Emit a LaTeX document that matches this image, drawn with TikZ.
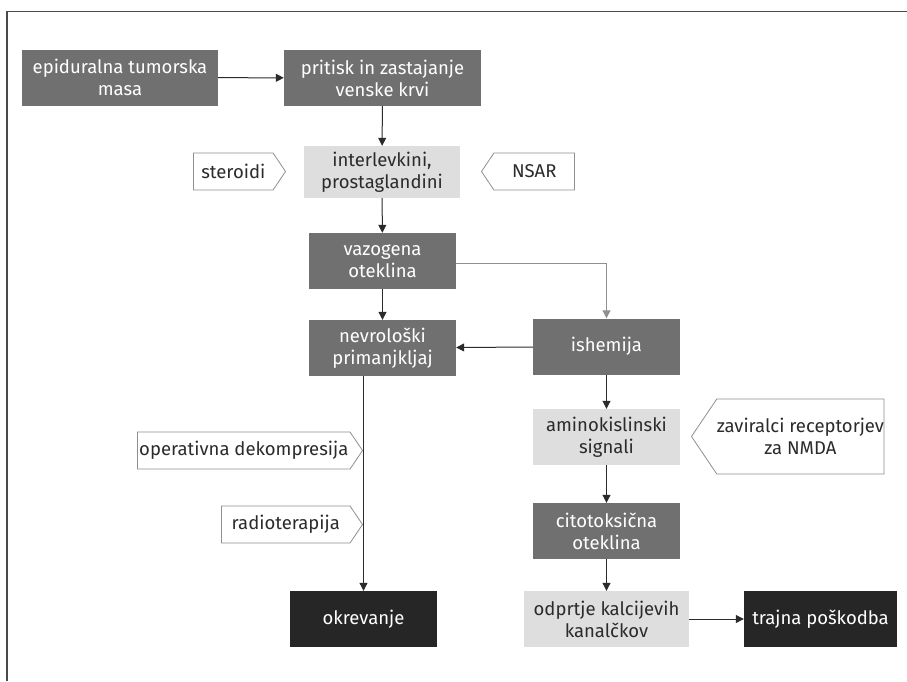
\documentclass[tikz,border=0pt]{standalone}
\usepackage{fontspec}
\setmainfont{Fira Sans}
\usetikzlibrary{arrows.meta, positioning, calc, shapes.symbols}
\definecolor{boxdark}{HTML}{707070}
\definecolor{boxlight}{HTML}{DEDEDE}
\definecolor{boxblack}{HTML}{262626}
\definecolor{inktext}{HTML}{2B2B2B}
\definecolor{inkgrey}{HTML}{8F8F8F}
\definecolor{inkframe}{HTML}{4A4A4A}
\tikzset{
  basebox/.style={minimum width=147pt, minimum height=56pt, inner sep=0pt, align=center},
  darkbox/.style={basebox, fill=boxdark, text=white},
  lightbox/.style={basebox, fill=boxlight, text=inktext},
  blackbox/.style={basebox, fill=boxblack, text=white},
  remedy/.style={signal, signal pointer angle=112, draw=inkgrey, line width=0.8pt,
                 fill=white, text=inktext, minimum height=37pt, inner sep=0pt, align=center},
  arr/.style={-{Triangle[length=8pt, width=8pt]}, inktext, line width=1pt}
}
\newcommand{\flowbox}[4]{%
  \node[#2] (#1) at (#3) {#4};}

\begin{document}
\begin{tikzpicture}[x=1pt, y=-1pt, font=\fontsize{18.5}{22}\selectfont]
  \useasboundingbox (0,0) rectangle (907,681);
  \draw[inkframe, line width=1.5pt] (907,11.5) -- (7,11.5) -- (7,681);

  % main chain
  \flowbox{tumor}{darkbox, minimum width=196pt}{120,77.5}{epiduralna tumorska\\masa}
  \flowbox{pritisk}{darkbox, minimum width=197pt}{382.5,78}{pritisk in zastajanje\\venske krvi}
  \flowbox{interl}{lightbox, minimum width=156pt, minimum height=52pt}{382,172}{interlevkini,\\prostaglandini}
  \flowbox{vazog}{darkbox}{382.5,261}{vazogena\\oteklina}
  \flowbox{nevro}{darkbox}{382.5,348}{nevrološki\\primanjkljaj}
  \flowbox{ishem}{darkbox}{606.5,346.5}{ishemija}
  \flowbox{amino}{lightbox}{606.5,437}{aminokislinski\\signali}
  \flowbox{citot}{darkbox}{606.5,531}{citotoksična\\oteklina}
  \flowbox{kalcij}{lightbox, minimum width=165pt}{606.5,619}{odprtje kalcijevih\\kanalčkov}
  \flowbox{trajna}{blackbox, minimum width=153pt}{820.5,619}{trajna poškodba}
  \flowbox{okrev}{blackbox}{363.5,619}{okrevanje}

  % treatments
  \node[remedy, signal to=east, minimum width=92pt, anchor=east] (steroidi) at (286,171.5) {steroidi};
  \node[remedy, signal to=west, minimum width=93pt, anchor=west] (nsar) at (481,171.5) {NSAR};
  \node[remedy, signal to=east, minimum width=225pt, anchor=east] (operat) at (363,450.5) {operativna dekompresija};
  \node[remedy, signal to=east, minimum width=141pt, anchor=east] (radio) at (363,524.5) {radioterapija};
  \node[remedy, signal to=west, minimum width=187pt, minimum height=75pt, anchor=west] (zavir) at (691,436.5) {zaviralci receptorjev\\za NMDA};

  % connectors
  \draw[arr] (tumor) -- (pritisk);
  \draw[arr] (pritisk) -- (interl);
  \draw[arr] (interl) -- (vazog);
  \draw[arr] (vazog) -- (nevro);
  \draw[arr, inkgrey] ([yshift=-2pt]vazog.east) -| (ishem);
  \draw[arr] (ishem) -- (nevro);
  \draw[arr] (nevro.south -| okrev.north) -- (okrev);
  \draw[arr] (ishem) -- (amino);
  \draw[arr] (amino) -- (citot);
  \draw[arr] (citot) -- (kalcij);
  \draw[arr] (kalcij) -- (trajna);
\end{tikzpicture}
\end{document}
